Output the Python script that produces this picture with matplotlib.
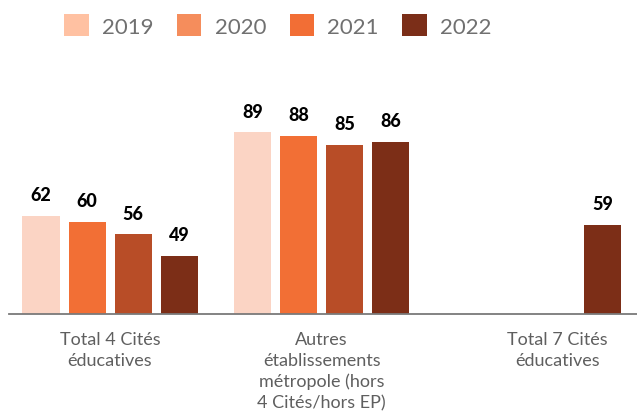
import matplotlib.pyplot as plt
import numpy as np
from matplotlib.patches import Patch

# Values per year for each group (missing = nan)
categories = ["Total 4 Cités\néducatives",
              "Autres\nétablissements\nmétropole (hors\n4 Cités/hors EP)",
              "Total 7 Cités\néducatives"]
years = ["2019", "2020", "2021", "2022"]
v2019 = [62, 89, np.nan]
v2020 = [60, 88, np.nan]
v2021 = [56, 85, np.nan]
v2022 = [49, 86, 59]
series = [v2019, v2020, v2021, v2022]

bar_colors = ["#FBD4C4", "#F26F35", "#B84D27", "#7C2E17"]
legend_colors = ["#FFC1A2", "#F58D5C", "#F26E35", "#7B2E18"]

fig = plt.figure(figsize=(6.37, 4.14), dpi=100)
ax = fig.add_axes([9 / 637, 1 - 315 / 414, 1 - 9 / 637, 200 / 414])

x = np.arange(len(categories))
step = 0.2175
width = 0.175
for i, vals in enumerate(series):
    pos = x + (i - 1.5) * step
    ax.bar(pos, vals, width=width, color=bar_colors[i], zorder=2)
    for p, v in zip(pos, vals):
        if not np.isnan(v):
            ax.annotate(f"{v:g}", (p, v), xytext=(0, 9), textcoords="offset points",
                        ha="center", va="bottom", fontsize=13, fontweight="black",
                        family="Lato", color="black")

ax.set_ylim(30, 95)
ax.set_xlim(-0.4775, 2.49)

# Category labels under each group; the last one sits a bit right
label_x = [0, 1, 2.113]
for lx, txt in zip(label_x, categories):
    ax.annotate(txt, (lx, 30), xytext=(0, -17), textcoords="offset pixels",
                ha="center", va="top", fontsize=13, family="Lato",
                color="#5f5f5f", linespacing=1.36, annotation_clip=False)

ax.set_xticks([])
ax.set_yticks([])
for s in ["top", "right", "left"]:
    ax.spines[s].set_visible(False)
ax.spines["bottom"].set_color("#7a7a7a")
ax.spines["bottom"].set_linewidth(1.3)

handles = [Patch(facecolor=c, edgecolor="none") for c in legend_colors]
fig.legend(handles, years, loc="center", bbox_to_anchor=(278 / 637, 1 - 26.5 / 414),
           ncol=4, frameon=False, prop={"family": "Lato", "size": 16},
           labelcolor="#707070", handlelength=1.1, handleheight=1.1,
           handletextpad=0.6, columnspacing=1.05)

fig.savefig("out.png", dpi=100)
